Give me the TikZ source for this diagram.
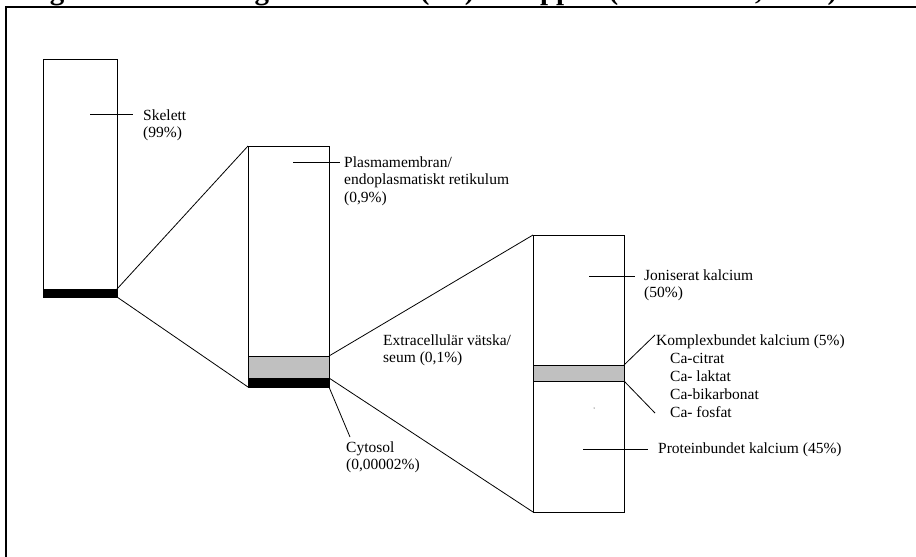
\documentclass[tikz,border=0pt]{standalone}
\usepackage{fontspec}
\setmainfont{Liberation Serif}
\usetikzlibrary{positioning}
\definecolor{bandgray}{RGB}{192,192,192}
\begin{document}
\begin{tikzpicture}[x=1pt,y=-1pt,
  lbl/.style={anchor=base west,inner sep=0pt,align=left,font=\fontsize{15.5}{17.5}\selectfont},
  bar/.style={draw,line width=0.9pt},
  lead/.style={line width=0.8pt}]
  \useasboundingbox (0,0) rectangle (916,557);
  \begin{scope}
  \clip (0,0) rectangle (916,557);
  \node[anchor=base west,inner sep=0pt,font=\fontsize{29}{31}\selectfont\bfseries] (title) at (24,-0.5)
    {Figur 1. Fördelning av kalcium (Ca) i kroppen (Nordenhav, 1998).};
  \end{scope}
  % frame
  \draw[line width=2pt] (5.5,557) -- (5.5,7) -- (916,7);

  % skeleton bar
  \draw[bar] (43,59) rectangle (117,297);
  \draw[bar,fill=black] (43,289) rectangle (117,297);
  \coordinate (s1) at (117,289);
  \coordinate (s2) at (117,297);

  % cell bar
  \draw[bar] (248,146) rectangle (329,387);
  \draw[bar,fill=bandgray] (248,356) rectangle (329,378);
  \draw[bar,fill=black] (248,378) rectangle (329,387);
  \coordinate (c1) at (248,146);
  \coordinate (c2) at (248,387);
  \coordinate (c3) at (329,356);
  \coordinate (c4) at (329,378);
  \coordinate (c5) at (329,387);

  % fluid bar
  \draw[bar] (533,235) rectangle (624,512);
  \draw[bar,fill=bandgray] (533,365) rectangle (624,381);
  \coordinate (f1) at (533,235);
  \coordinate (f2) at (533,512);
  \coordinate (f3) at (624,365);
  \coordinate (f4) at (624,381);
  \fill (594,408) circle (0.5pt);

  % zoom lines
  \draw[lead] (s1) -- (c1);
  \draw[lead] (s2) -- (c2);
  \draw[lead] (c3) -- (f1);
  \draw[lead] (c4) -- (f2);

  % labels (placed at the baseline of their last line)
  \node[lbl] (skel) at (143,137.5) {Skelett\\(99\%)};
  \node[lbl] (plasma) at (344,202) {Plasmamembran/\\endoplasmatiskt retikulum\\(0,9\%)};
  \node[lbl] (extra) at (383,362.5) {Extracellulär vätska/\\seum (0,1\%)};
  \node[lbl] (cyto) at (346,469.5) {Cytosol\\(0,00002\%)};
  \node[lbl] (jon) at (644,297.5) {Joniserat kalcium\\(50\%)};
  \node[lbl] (komp) at (656,345) {Komplexbundet kalcium (5\%)};
  \node[lbl,font=\fontsize{15.5}{18}\selectfont] (calist) at (670,417) {Ca-citrat\\Ca- laktat\\Ca-bikarbonat\\Ca- fosfat};
  \node[lbl] (prot) at (658,453) {Proteinbundet kalcium (45\%)};

  % leader ticks
  \foreach \a/\b/\y in {90/133/114, 293/340/162, 589/635/276, 583/648/449}
    { \coordinate (t1) at (\a,\y);
      \coordinate (t2) at (\b,\y);
      \draw[lead] (t1) -- (t2); }
  \coordinate (cy) at (350,437);
  \coordinate (k1) at (655,335);
  \coordinate (k2) at (655,413);
  \draw[lead] (c5) -- (cy);
  \draw[lead] (f3) -- (k1);
  \draw[lead] (f4) -- (k2);
\end{tikzpicture}
\end{document}
